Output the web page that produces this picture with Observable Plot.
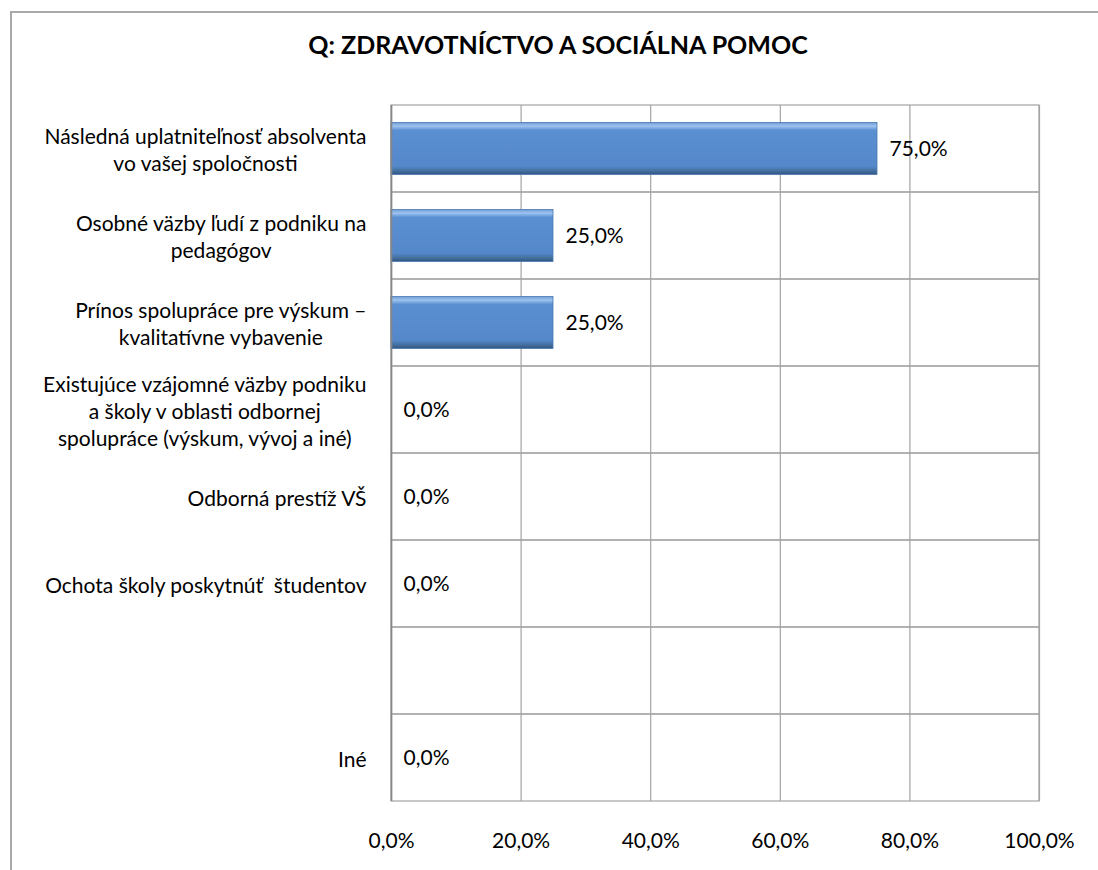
<!DOCTYPE html>
<html>
<head>
<meta charset="utf-8">
<script src="https://cdn.jsdelivr.net/npm/d3@7"></script>
<script src="https://cdn.jsdelivr.net/npm/@observablehq/plot@0.6"></script>
<style>
html, body { margin: 0; padding: 0; background: #fff; width: 1098px; height: 870px; overflow: hidden; }
#wrap { position: relative; width: 1098px; height: 870px; overflow: hidden; }
#frame { position: absolute; left: 10px; top: 11px; width: 1200px; height: 1000px; border: 2px solid #a9a9a9; box-sizing: border-box; }
#title { position: absolute; left: 0; top: 29px; width: 1116px; text-align: center; font-family: Lato, sans-serif; font-weight: bold; font-size: 25px; line-height: 30px; color: #000; }
#chart { position: absolute; left: 0; top: 0; }
</style>
</head>
<body>
<div id="wrap">
  <div id="frame"></div>
  <div id="title">Q: ZDRAVOTNÍCTVO A SOCIÁLNA POMOC</div>
  <div id="chart"></div>
</div>
<script>
const categories = [
  "Následná uplatniteľnosť absolventa\nvo vašej spoločnosti",
  "Osobné väzby ľudí z podniku na\npedagógov",
  "Prínos spolupráce pre výskum –\nkvalitatívne vybavenie",
  "Existujúce vzájomné väzby podniku\na školy v oblasti odbornej\nspolupráce (výskum, vývoj a iné)",
  "Odborná prestíž VŠ",
  "Ochota školy poskytnúť  študentov",
  " ",
  "Iné"
];
const values = [75, 25, 25, 0, 0, 0, null, 0];
const xTicks = [0, 20, 40, 60, 80, 100];

const fmt = v => v.toFixed(1).replace(".", ",") + "%";
const data = categories.map((c, i) => ({cat: c, value: values[i]})).filter(d => d.value != null);

const chart = Plot.plot({
  width: 1098,
  height: 870,
  marginLeft: 391,
  marginRight: 59,
  marginTop: 105,
  marginBottom: 69,
  style: {fontFamily: "Lato, sans-serif", fontSize: "21px", color: "#000", background: "transparent", overflow: "visible"},
  x: {domain: [0, 100], ticks: xTicks, tickFormat: fmt, tickSize: 0, tickPadding: 32, label: null},
  y: {domain: categories, padding: 0, axis: null},
  marks: [
    Plot.cell(categories, {y: d => d, fill: "none", stroke: "#a3a3a3", strokeWidth: 1.2}),
    Plot.ruleX(xTicks, {stroke: "#a3a3a3", strokeWidth: 1.2}),
    Plot.barX(data, {x: "value", y: "cat", fill: "url(#barGrad)", stroke: "#4a78b0", strokeWidth: 0.8, insetTop: 17.5, insetBottom: 17.5}),
    Plot.ruleX([0], {stroke: "#868686", strokeWidth: 1.6}),
    Plot.text(data, {x: "value", y: "cat", text: d => fmt(d.value), textAnchor: "start", dx: 12, fill: "#000"}),
    Plot.text(categories, {y: d => d, text: d => d, frameAnchor: "left", textAnchor: "end", dx: -25, lineHeight: 1.29, fill: "#000"})
  ]
});

document.getElementById("chart").appendChild(chart);

const svgNS = "http://www.w3.org/2000/svg";
const defs = document.createElementNS(svgNS, "defs");
defs.innerHTML = `
<linearGradient id="barGrad" x1="0" y1="0" x2="0" y2="1">
  <stop offset="0" stop-color="#6e9cd8"/>
  <stop offset="0.07" stop-color="#9ec3ef"/>
  <stop offset="0.15" stop-color="#5a8fd2"/>
  <stop offset="0.84" stop-color="#5488cb"/>
  <stop offset="0.93" stop-color="#44709f"/>
  <stop offset="1" stop-color="#2f5582"/>
</linearGradient>`;
chart.insertBefore(defs, chart.firstChild);

function centerLines() {
  chart.querySelectorAll("text").forEach(t => {
    const spans = t.querySelectorAll("tspan");
    if (spans.length < 2) return;
    let maxW = 0;
    spans.forEach(s => { maxW = Math.max(maxW, s.getComputedTextLength()); });
    if (!maxW) return;
    t.setAttribute("text-anchor", "middle");
    t.style.textAnchor = "middle";
    spans.forEach(s => { s.setAttribute("x", -maxW / 2); s.style.textAnchor = "middle"; });
  });
}
centerLines();
if (document.fonts && document.fonts.ready) {
  document.fonts.ready.then(centerLines);
}
</script>
</body>
</html>
